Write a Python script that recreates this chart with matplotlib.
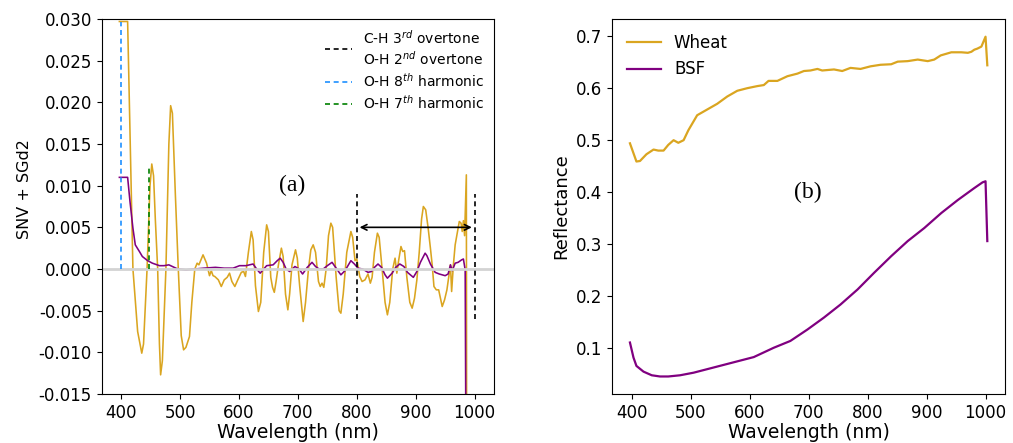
import matplotlib
matplotlib.use("Agg")
import matplotlib.pyplot as plt

plt.rcParams['axes.unicode_minus'] = False

# --- (a) SNV + SGd2 spectra ---
snv_nm_wheat = [397, 411, 420, 428, 435, 438, 444, 449, 452, 455, 458, 462, 465, 467, 470,
                476, 481, 484, 487, 492, 497, 502, 506, 510, 516, 520, 525, 529, 532, 539,
                545, 550, 553, 556, 559, 565, 570, 575, 580, 584, 588, 593, 598, 604, 608,
                611, 616, 621, 624, 628, 633, 637, 642, 647, 650, 654, 657, 660, 663, 667,
                672, 675, 679, 683, 686, 690, 696, 699, 703, 709, 713, 718, 722, 726, 730,
                735, 738, 741, 744, 748, 752, 756, 759, 765, 770, 773, 777, 783, 790, 793,
                797, 800, 805, 809, 814, 819, 823, 826, 830, 835, 838, 843, 848, 852, 856,
                861, 865, 868, 871, 875, 878, 881, 885, 890, 894, 898, 902, 906, 910, 913,
                917, 921, 925, 928, 931, 935, 939, 942, 945, 949, 953, 956, 959, 961, 964,
                967, 971, 974, 977, 979, 981, 983, 986, 987, 1003]
snv_wheat = [0.0297, 0.0297, 0.0, -0.0075, -0.0101, -0.009, 0.0, 0.010, 0.0126, 0.0112, 0.006,
             0.0, -0.009, -0.0127, -0.011, 0.0, 0.015, 0.0196, 0.0187, 0.009, 0.0, -0.008,
             -0.0097, -0.0094, -0.0081, -0.004, 0.0, 0.0007, 0.0005, 0.0017, 0.0007, -0.0008,
             -0.0002, -0.0008, -0.0009, -0.0013, -0.0021, -0.0013, -0.0010, -0.0005, -0.0015,
             -0.0021, -0.0013, -0.0004, -0.0003, -0.0009, 0.002, 0.0045, 0.0035, -0.002,
             -0.0051, -0.004, 0.002, 0.0053, 0.0045, -0.001, -0.0022, -0.0028, -0.0015,
             0.0005, 0.0025, 0.0015, -0.003, -0.0049, -0.003, 0.0005, 0.0023, 0.0013, -0.002,
             -0.0063, -0.004, 0.0, 0.0023, 0.0029, 0.002, -0.0015, -0.0021, -0.0017, -0.0022,
             0.0, 0.004, 0.0055, 0.005, -0.001, -0.005, -0.0053, -0.003, 0.002, 0.0045, 0.0038,
             0.001, 0.0012, -0.0009, -0.0015, -0.0013, -0.0006, -0.0017, -0.0010, 0.002,
             0.0043, 0.0038, 0.0, -0.004, -0.0055, -0.004, 0.0, 0.0013, -0.0005, 0.001,
             0.0027, 0.0021, 0.0022, -0.001, -0.004, -0.0047, -0.0035, -0.0013, 0.002, 0.006,
             0.0075, 0.0071, 0.005, 0.0025, 0.0005, -0.0021, -0.0025, -0.0025, -0.0035,
             -0.0045, -0.0037, -0.0025, -0.001, 0.0005, -0.0027, 0.0005, 0.0029, 0.0045,
             0.0057, 0.0055, 0.0045, 0.0058, 0.004, 0.0113, -0.05, -0.05]

snv_nm_bsf = [397, 411, 415, 420, 424, 431, 436, 445, 453, 465, 473, 481, 487, 496, 510, 525,
              540, 560, 575, 590, 601, 612, 624, 630, 636, 642, 647, 658, 665, 670, 675, 680,
              686, 695, 702, 708, 716, 724, 730, 736, 743, 750, 758, 766, 773, 780, 790, 796,
              802, 810, 819, 825, 830, 836, 842, 848, 852, 860, 866, 873, 880, 886, 896, 902,
              908, 916, 919, 925, 933, 940, 950, 955, 959, 962, 967, 972, 978, 981, 984, 987,
              1003]
snv_bsf = [0.011, 0.011, 0.0081, 0.0049, 0.0029, 0.0021, 0.0015, 0.001, 0.0007, 0.0004,
           0.0004, 0.0005, 0.0003, 0.0, -0.0001, 0.0, 0.0001, 0.0002, 0.0001, 0.0001, 0.0004,
           0.0004, 0.0006, 0.0, -0.0005, 0.0, 0.0004, 0.0005, 0.001, 0.0013, 0.0008, 0.0,
           -0.0003, 0.0003, 0.0, -0.0006, 0.0002, 0.0008, 0.0003, 0.0, 0.0, 0.0004, 0.0008,
           0.0, -0.0007, -0.0002, 0.001, 0.0006, 0.0001, 0.0, -0.0004, -0.0003, 0.0002,
           0.0006, 0.0002, -0.0007, -0.0011, -0.0005, 0.0002, 0.0006, 0.0003, -0.0004, -0.001,
           -0.0003, 0.0008, 0.0019, 0.0016, 0.0006, -0.0004, -0.0006, -0.0008, -0.0006,
           0.0005, -0.0002, 0.0007, 0.0008, 0.0011, 0.0012, -0.0001, -0.05, -0.05]

# --- (b) raw reflectance ---
refl_nm_wheat = [397, 408, 414, 425, 437, 445, 454, 462, 471, 479, 488, 496, 511, 528, 545,
                 562, 579, 596, 613, 624, 632, 647, 664, 681, 692, 703, 715, 723, 743, 757,
                 771, 788, 805, 822, 840, 851, 868, 885, 902, 913, 924, 942, 959, 970, 976,
                 981, 986, 993, 1000, 1003]
refl_wheat = [0.494, 0.459, 0.460, 0.473, 0.482, 0.480, 0.480, 0.491, 0.500, 0.495, 0.500,
              0.519, 0.548, 0.559, 0.570, 0.584, 0.595, 0.600, 0.604, 0.606, 0.614, 0.614,
              0.623, 0.628, 0.633, 0.634, 0.637, 0.634, 0.636, 0.633, 0.639, 0.637, 0.642,
              0.645, 0.646, 0.651, 0.652, 0.655, 0.652, 0.655, 0.663, 0.669, 0.669, 0.668,
              0.670, 0.674, 0.676, 0.680, 0.699, 0.644]

refl_nm_bsf = [397, 403, 408, 420, 434, 448, 462, 482, 505, 539, 573, 607, 641, 669, 698,
               726, 754, 783, 811, 840, 868, 896, 925, 953, 981, 995, 1000, 1003]
refl_bsf = [0.111, 0.082, 0.066, 0.055, 0.048, 0.0457, 0.0457, 0.048, 0.053, 0.063, 0.073,
            0.083, 0.101, 0.114, 0.136, 0.159, 0.184, 0.213, 0.245, 0.277, 0.306, 0.331,
            0.360, 0.385, 0.408, 0.419, 0.421, 0.306]

wheat_color = '#DAA520'
bsf_color = '#800080'

fig = plt.figure(figsize=(10.13, 4.43), dpi=100)
ax1 = fig.add_axes([0.1004, 0.1106, 0.3873, 0.8465])
ax2 = fig.add_axes([0.6044, 0.1106, 0.3877, 0.8465])

# panel (a)
ax1.plot(snv_nm_wheat, snv_wheat, color=wheat_color, lw=1.15)
ax1.plot(snv_nm_bsf, snv_bsf, color=bsf_color, lw=1.15)
ax1.axhline(0, color='lightgray', lw=2)
ax1.plot([800, 800], [-0.006, 0.009], ls='--', color='black', lw=1.2, dashes=(3, 2.2),
         label='C-H 3$^{rd}$ overtone\nO-H 2$^{nd}$ overtone')
ax1.plot([1000, 1000], [-0.006, 0.009], ls='--', color='black', lw=1.2, dashes=(3, 2.2))
ax1.plot([400, 400], [0, 0.0297], ls='--', color='dodgerblue', lw=1.2, dashes=(3, 2.2),
         label='O-H 8$^{th}$ harmonic')
ax1.plot([448, 448], [0, 0.0125], ls='--', color='green', lw=1.2, dashes=(3, 2.2),
         label='O-H 7$^{th}$ harmonic')
ax1.annotate('', xy=(1000, 0.005), xytext=(800, 0.005),
             arrowprops=dict(arrowstyle='<->', color='black', lw=1.2))
ax1.text(690, 0.010, '(a)', fontsize=17, family='Liberation Serif', ha='center', va='center')
ax1.set_xlim(367, 1033)
ax1.set_ylim(-0.015, 0.030)
ax1.set_xticks([400, 500, 600, 700, 800, 900, 1000])
ax1.set_yticks([-0.015, -0.010, -0.005, 0.0, 0.005, 0.010, 0.015, 0.020, 0.025, 0.030])
ax1.set_yticklabels(['%.3f' % v for v in ax1.get_yticks()])
ax1.tick_params(labelsize=12)
ax1.set_xlabel('Wavelength (nm)', fontsize=13.5, labelpad=1)
ax1.set_ylabel('SNV + SGd2', fontsize=11.5)
ax1.yaxis.set_label_coords(-0.178, 0.547)
ax1.legend(loc='upper right', frameon=False, fontsize=10, handlelength=2.0,
           borderaxespad=0.3, labelspacing=0.3)

# panel (b)
ax2.plot(refl_nm_wheat, refl_wheat, color=wheat_color, lw=1.6, label='Wheat')
ax2.plot(refl_nm_bsf, refl_bsf, color=bsf_color, lw=1.6, label='BSF')
ax2.text(698, 0.40, '(b)', fontsize=17, family='Liberation Serif', ha='center', va='center')
ax2.set_xlim(367, 1033)
ax2.set_ylim(0.012, 0.733)
ax2.set_xticks([400, 500, 600, 700, 800, 900, 1000])
ax2.tick_params(labelsize=12)
ax2.set_xlabel('Wavelength (nm)', fontsize=13.5, labelpad=1)
ax2.set_ylabel('Reflectance', fontsize=13)
ax2.legend(loc='upper left', frameon=False, fontsize=12)

fig.savefig('out.png', dpi=100)
